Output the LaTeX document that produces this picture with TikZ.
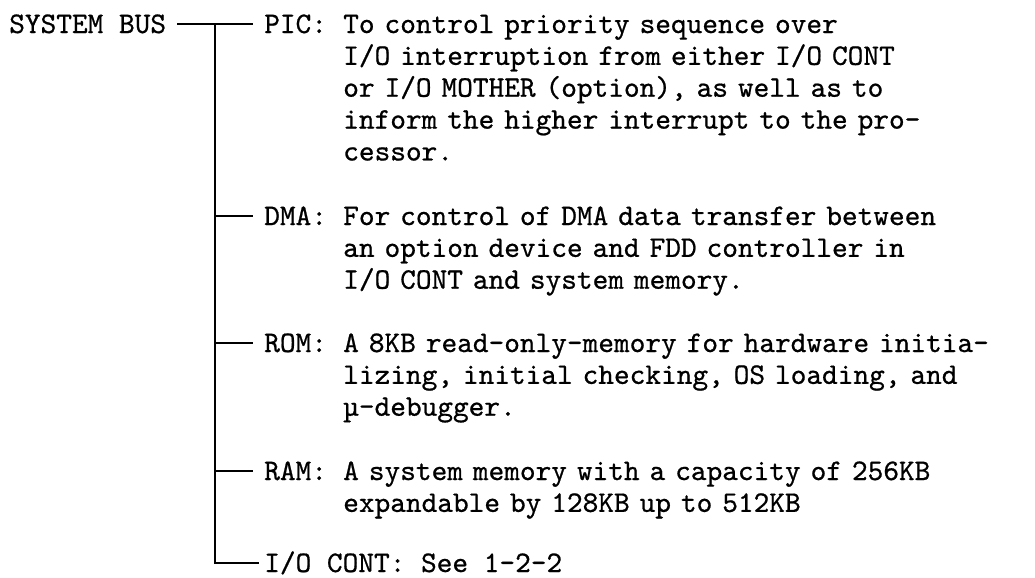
\documentclass[tikz,border=0pt]{standalone}
\usepackage{fontspec}
\newfontfamily\typerfont{lmmono10-regular.otf}[FakeBold=0.7]
\usetikzlibrary{positioning}
\tikzset{
unitname/.style = {anchor=base west, inner sep=0pt,
                   text height=13.7pt, text depth=0pt,
                   font=\typerfont\fontsize{22.4}{23.9}\selectfont},
unitbody/.style = {inner sep=0pt, align=left, text width=560pt,
                   font=\typerfont\fontsize{22.4}{23.9}\selectfont},
busline/.style  = {line width=1.4pt}
}

\begin{document}
\begin{tikzpicture}[x=0.75pt, y=-0.75pt]
\useasboundingbox (0,0) rectangle (1035,578);

\node[unitname] (bus)    at (9,33)   {SYSTEM BUS};
\node[unitname] (pic)    at (264,33) {PIC:};
\node[unitname] (dma)    at (264,225) {DMA:};
\node[unitname] (rom)    at (264,352) {ROM:};
\node[unitname] (ram)    at (264,480) {RAM:};
\node[unitname] (iocont) at (264,572) {I/O CONT: See 1-2-2};

\node[unitbody, base right=11.8pt of pic] (pictext)
    {To control priority sequence over\\
     I/O interruption from either I/O CONT\\
     or I/O MOTHER (option), as well as to\\
     inform the higher interrupt to the pro-\\
     cessor.};
\node[unitbody, base right=11.8pt of dma] (dmatext)
    {For control of DMA data transfer between\\
     an option device and FDD controller in\\
     I/O CONT and system memory.};
\node[unitbody, base right=11.8pt of rom] (romtext)
    {A 8KB read-only-memory for hardware initia-\\
     lizing, initial checking, OS loading, and\\
     µ-debugger.};
\node[unitbody, base right=11.8pt of ram] (ramtext)
    {A system memory with a capacity of 256KB\\
     expandable by 128KB up to 512KB};

% the bus and its branches
\path (bus) -- coordinate[pos=0.5] (junction) (pic);
\draw[busline, shorten <=8pt, shorten >=8.5pt] (bus) -- (pic);
\draw[busline, shorten >=3.75pt] (junction) |- (iocont);
\foreach \n in {dma, rom, ram} {
    \draw[busline, shorten >=8.5pt] (junction |- \n) -- (\n);
}
\end{tikzpicture}
\end{document}
